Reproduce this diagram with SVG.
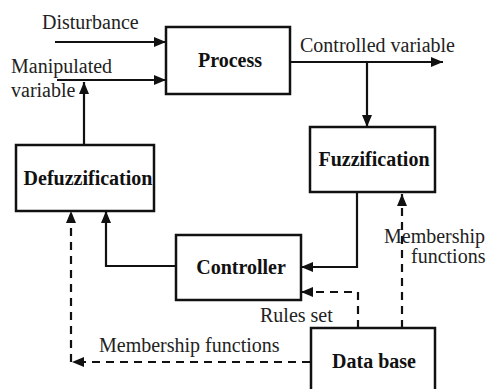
<svg xmlns="http://www.w3.org/2000/svg" width="486" height="389" viewBox="0 0 486 389">
<style>
.box{fill:#fff;stroke:#111;stroke-width:2.5}
.lbl{font-weight:bold;font-size:20px;fill:#111;text-anchor:middle}
.txt{font-size:20px;fill:#222}
.ln{fill:none;stroke:#111;stroke-width:2.2}
.dash{stroke-dasharray:8 6}
</style>
<defs>
<marker id="ah" viewBox="0 0 12 10" refX="12" refY="5" markerWidth="12" markerHeight="10" markerUnits="userSpaceOnUse" orient="auto">
<path d="M0,0 L12,5 L0,10 Z" fill="#111"/>
</marker>
</defs>
<rect width="486" height="389" fill="#fff"/>
<g id="connectors">
<path class="ln" d="M55,42 H166" marker-end="url(#ah)"/>
<path class="ln" d="M57,80 H166" marker-end="url(#ah)"/>
<path class="ln" d="M84,145 V82" marker-end="url(#ah)"/>
<path class="ln" d="M290,62 H443" marker-end="url(#ah)"/>
<path class="ln" d="M367,62 V127" marker-end="url(#ah)"/>
<path class="ln" d="M357,192 V267 H301" marker-end="url(#ah)"/>
<path class="ln" d="M176,266 H106 V211" marker-end="url(#ah)"/>
<path class="ln dash" d="M358,328 V292 H301" marker-end="url(#ah)"/>
<path class="ln dash" d="M402,328 V194" marker-end="url(#ah)"/>
<path class="ln dash" d="M310,362 H72" marker-end="url(#ah)"/>
<path class="ln dash" d="M71,362 V211" marker-end="url(#ah)"/>
</g>
<g font-family="Liberation Serif, Times New Roman, DejaVu Serif, serif">
<g id="process"><rect class="box" x="166" y="27" width="124" height="67"/><text class="lbl" x="230" y="67">Process</text></g>
<g id="fuzzification"><rect class="box" x="310" y="127" width="125" height="65"/><text class="lbl" x="374" y="166">Fuzzification</text></g>
<g id="defuzzification"><rect class="box" x="16" y="145" width="138" height="66"/><text class="lbl" x="88" y="185">Defuzzification</text></g>
<g id="controller"><rect class="box" x="176" y="235" width="125" height="65"/><text class="lbl" x="241" y="274">Controller</text></g>
<g id="database"><rect class="box" x="311" y="328" width="124" height="70"/><text class="lbl" x="374" y="368">Data base</text></g>
<g id="labels">
<text class="txt" x="42" y="29">Disturbance</text>
<text class="txt" x="11" y="73">Manipulated</text>
<text class="txt" x="11" y="97">variable</text>
<text class="txt" x="300" y="52">Controlled variable</text>
<text class="txt" x="384" y="243">Membership</text>
<text class="txt" x="411" y="263">functions</text>
<text class="txt" x="260" y="322">Rules set</text>
<text class="txt" x="99" y="352">Membership functions</text>
</g>
</g>
</svg>
